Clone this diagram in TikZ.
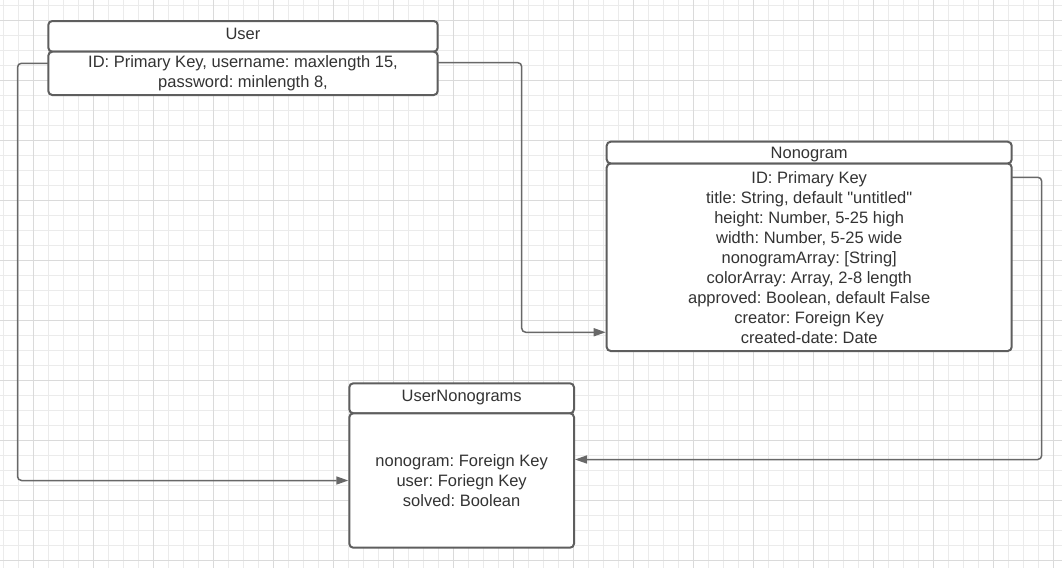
\documentclass[tikz,border=0pt]{standalone}
\usepackage{fontspec}
\setmainfont{Liberation Sans}
\usepackage{tikz}
\usetikzlibrary{positioning,arrows.meta}
\frenchspacing
\definecolor{gridminor}{HTML}{EBEBEB}
\definecolor{gridmajor}{HTML}{DADADA}
\definecolor{boxline}{HTML}{5E5E5E}
\definecolor{linkline}{HTML}{686868}
\definecolor{txt}{HTML}{333333}
\tikzset{>={Triangle[length=12pt,width=8pt]}}
\tikzset{
  tablehead/.style={draw=boxline,line width=2pt,fill=white,rounded corners=4pt,inner sep=0pt,outer sep=0pt,text=txt,text height=12pt,text depth=6pt,font=\fontsize{16.5pt}{20pt}\selectfont},
  tablebody/.style={draw=boxline,line width=2pt,fill=white,rounded corners=4pt,inner sep=0pt,outer sep=0pt,text=txt,align=center,font=\fontsize{16.5pt}{20pt}\selectfont},
  link/.style={->,draw=linkline,line width=1.5pt,rounded corners=4pt,shorten >=1pt}
}

\begin{document}
\begin{tikzpicture}[x=1pt,y=1pt]
  \fill[white] (0,0) rectangle (1062,-568);
  \useasboundingbox (0,0) rectangle (1062,-568);
  % grid paper
  \foreach \i in {0,...,70} \draw[gridminor,line width=1pt] (3.3+15*\i,0) -- (3.3+15*\i,-568);
  \foreach \i in {0,...,37} \draw[gridminor,line width=1pt] (0,-5-15*\i) -- (1062,-5-15*\i);
  \foreach \i in {0,...,17} \draw[gridmajor,line width=1pt] (33.3+60*\i,0) -- (33.3+60*\i,-568);
  \foreach \i in {0,...,9} \draw[gridmajor,line width=1pt] (0,-20-60*\i) -- (1062,-20-60*\i);

  % tables
  \node[tablehead,minimum width=389.4pt,minimum height=30.7pt,anchor=north west] (user) at (48.3,-21) {User};
  \node[tablebody,minimum width=389.4pt,minimum height=43.3pt,below=0pt of user] (userbody) {ID: Primary Key, username: maxlength 15,\\password: minlength 8,};

  \node[tablehead,text depth=0pt,minimum width=405pt,minimum height=21.8pt,anchor=north west] (nono) at (606.7,-141.7) {Nonogram};
  \node[tablebody,minimum width=405pt,minimum height=187.5pt,below=0pt of nono] (nonobody) {ID: Primary Key\\title: String, default \textquotedbl untitled\textquotedbl\\height: Number, 5-25 high\\width: Number, 5-25 wide\\nonogramArray: [String]\\colorArray: Array, 2-8 length\\approved: Boolean, default False\\creator: Foreign Key\\created-date: Date};

  \node[tablehead,minimum width=224.7pt,minimum height=30pt,anchor=north west] (un) at (349.3,-383.3) {UserNonograms};
  \node[tablebody,minimum width=224.7pt,minimum height=134.4pt,below=0pt of un] (unbody) {nonogram: Foreign Key\\user: Foriegn Key\\solved: Boolean};

  % links
  \draw[link] ([yshift=10.1pt]userbody.west) -- ++(-30.8,0) |- (unbody.west);
  \draw[link] ([yshift=10.7pt]userbody.east) -- ++(84,0) |- ([yshift=-75pt]nonobody.west);
  \draw[link] ([yshift=80pt]nonobody.east) -- ++(30,0) |- ([yshift=21pt]unbody.east);
\end{tikzpicture}
\end{document}
